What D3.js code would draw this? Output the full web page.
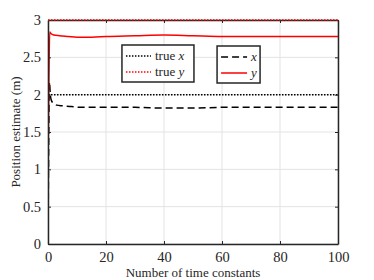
<!DOCTYPE html>
<html>
<head>
<meta charset="utf-8">
<script src="https://cdn.jsdelivr.net/npm/d3@7"></script>
<style>
body { margin: 0; background: #fff; }
text { font-family: "Liberation Serif", "Times New Roman", serif; }
</style>
</head>
<body>
<div id="svg-container"></div>
<script>
// Data
var timeX = [0, 0.3, 0.5, 0.8, 1.2, 2, 3, 5, 8, 12, 20, 30, 40, 50, 60, 70, 80, 90, 100];
var estX  = [0, 1.6, 2.17, 2.0, 1.92, 1.88, 1.86, 1.85, 1.84, 1.83, 1.83, 1.83, 1.82, 1.82, 1.83, 1.83, 1.83, 1.83, 1.83];
var timeY = [0, 0.3, 0.6, 1, 2, 4, 7, 10, 15, 20, 30, 40, 50, 60, 70, 80, 90, 100];
var estY  = [1.0, 2.2, 2.84, 2.82, 2.80, 2.79, 2.78, 2.77, 2.77, 2.78, 2.79, 2.80, 2.79, 2.78, 2.78, 2.78, 2.78, 2.78];
var trueX = 2;
var trueY = 3;
var xTicks = [0, 20, 40, 60, 80, 100];
var yTicks = [0, 0.5, 1, 1.5, 2, 2.5, 3];

var margin = {top: 20, right: 36, bottom: 36, left: 48};
var width = 374 - margin.left - margin.right;
var height = 280 - margin.top - margin.bottom;

var svg = d3.select("#svg-container").append("svg")
    .attr("width", 374).attr("height", 280)
    .append("g")
    .attr("transform", "translate(" + margin.left + "," + margin.top + ")");

var x = d3.scaleLinear().domain([0, 100]).range([0, width]);
var y = d3.scaleLinear().domain([0, 3]).range([height, 0]);

// grid
svg.selectAll(".vgrid").data(xTicks).enter().append("line")
    .attr("x1", x).attr("x2", x).attr("y1", 0).attr("y2", height)
    .style("stroke", "#e3e3e3").style("stroke-width", 1);
svg.selectAll(".hgrid").data(yTicks).enter().append("line")
    .attr("y1", y).attr("y2", y).attr("x1", 0).attr("x2", width)
    .style("stroke", "#e3e3e3").style("stroke-width", 1);

// data lines
svg.append("clipPath").attr("id", "clip").append("rect")
    .attr("width", width).attr("height", height + 1).attr("y", -1);
var plot = svg.append("g").attr("clip-path", "url(#clip)");

var line = d3.line().curve(d3.curveMonotoneX);

plot.append("path")
    .datum(d3.zip(timeX.map(x), estX.map(y)))
    .attr("d", line)
    .style("fill", "none").style("stroke", "#000").style("stroke-width", 1.5)
    .style("stroke-dasharray", "7,4");

plot.append("path")
    .datum(d3.zip(timeY.map(x), estY.map(y)))
    .attr("d", line)
    .style("fill", "none").style("stroke", "#ff0000").style("stroke-width", 1.5);

plot.append("line")
    .attr("x1", 0).attr("x2", width).attr("y1", y(trueX)).attr("y2", y(trueX))
    .style("stroke", "#000").style("stroke-width", 1.5).style("stroke-dasharray", "1.5,1.5");

// axes (ticks inside, box)
var xAxis = svg.append("g").attr("transform", "translate(0," + height + ")")
    .call(d3.axisBottom(x).tickValues(xTicks).tickSizeInner(-3).tickSizeOuter(0).tickPadding(8));
var yAxis = svg.append("g")
    .call(d3.axisLeft(y).tickValues(yTicks).tickSizeInner(-3).tickSizeOuter(0).tickPadding(7)
        .tickFormat(function(d) { return d; }));
var xTop = svg.append("g")
    .call(d3.axisTop(x).tickValues(xTicks).tickSizeInner(-3).tickSizeOuter(0).tickFormat(""));
var yRight = svg.append("g").attr("transform", "translate(" + width + ",0)")
    .call(d3.axisRight(y).tickValues(yTicks).tickSizeInner(-3).tickSizeOuter(0).tickFormat(""));

[xAxis, yAxis, xTop, yRight].forEach(function(a) {
    a.attr("font-family", "Liberation Serif").attr("font-size", 14.5);
    a.selectAll("path").style("stroke", "#262626").style("stroke-width", 1.5);
    a.selectAll("line").style("stroke", "#262626");
    a.selectAll("text").style("fill", "#262626");
});

// true y dotted on top edge, drawn over the axis box
svg.append("line")
    .attr("x1", 0).attr("x2", width).attr("y1", y(trueY)).attr("y2", y(trueY))
    .style("stroke", "#ff0000").style("stroke-width", 1.5).style("stroke-dasharray", "1.5,1.5");

// axis labels
svg.append("text")
    .attr("x", width / 2).attr("y", height + 33)
    .style("text-anchor", "middle").style("font-size", "13px").style("fill", "#262626")
    .text("Number of time constants");

svg.append("text")
    .attr("transform", "rotate(-90)")
    .attr("x", -height / 2).attr("y", -28)
    .style("text-anchor", "middle").style("font-size", "13px").style("fill", "#262626")
    .text("Position estimate (m)");

// legends
function legendBox(bx, by, bw, bh, items) {
    var g = svg.append("g");
    g.append("rect").attr("x", bx).attr("y", by).attr("width", bw).attr("height", bh)
        .style("fill", "#fff").style("stroke", "#262626").style("stroke-width", 1.5);
    items.forEach(function(it, i) {
        var ly = by + 11 + i * 16;
        g.append("line").attr("x1", bx + 4).attr("x2", bx + 4 + it.len).attr("y1", ly).attr("y2", ly)
            .style("stroke", it.color).style("stroke-width", 1.5).style("stroke-dasharray", it.dash);
        var t = g.append("text").attr("x", bx + 8 + it.len).attr("y", ly + 4)
            .style("font-size", "13px").style("fill", "#262626");
        if (it.prefix) t.append("tspan").text(it.prefix + " ");
        t.append("tspan").style("font-style", "italic").text(it.sym);
    });
}

legendBox(x(25.5), 25, 72, 37, [
    {color: "#000", dash: "1.5,1.5", len: 25, prefix: "true", sym: "x"},
    {color: "#ff0000", dash: "1.5,1.5", len: 25, prefix: "true", sym: "y"}
]);
legendBox(x(58.3), 26, 43, 37, [
    {color: "#000", dash: "7,4", len: 26, sym: "x"},
    {color: "#ff0000", dash: null, len: 26, sym: "y"}
]);
</script>
</body>
</html>
